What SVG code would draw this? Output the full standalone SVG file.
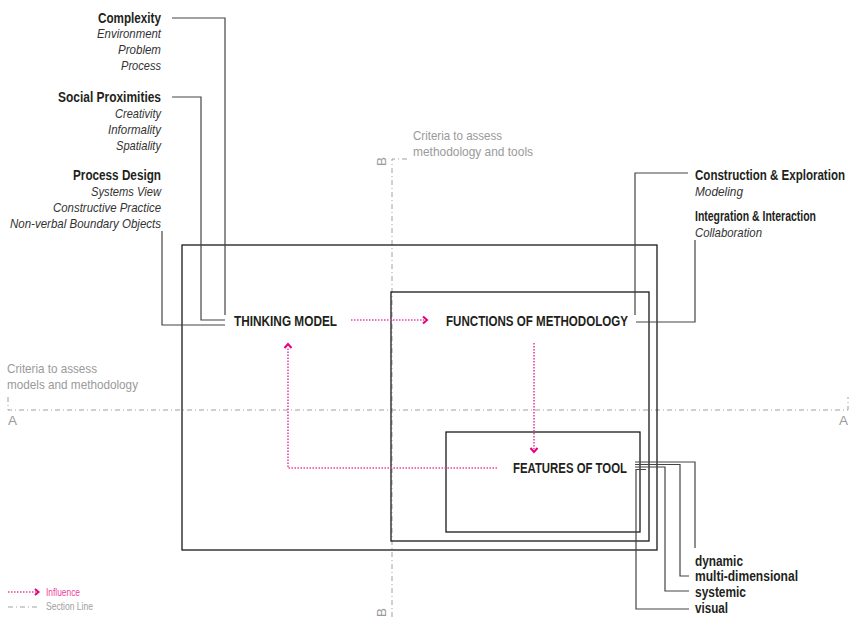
<svg xmlns="http://www.w3.org/2000/svg" width="849" height="617" viewBox="0 0 849 617">
  <style>
    text { font-family: "Liberation Sans Narrow", "Liberation Sans", Arial, sans-serif; fill: #231f20; }
    .h { font-size: 14px; font-weight: bold; }
    .it { font-size: 13px; font-style: italic; fill: #333; }
    .cap { font-size: 14px; font-weight: bold; }
    .gr { font-size: 13px; fill: #9a9a9a; }
    .lg { font-size: 10px; }
    .box { fill: none; stroke: #1a1a1a; stroke-width: 1.3; }
    .con { fill: none; stroke: #444; stroke-width: 1.2; }
    .sec { fill: none; stroke: #a0a0a0; stroke-width: 1; stroke-dasharray: 5 3 1 3; }
    .inf { fill: none; stroke: #ee3fa0; stroke-width: 1.6; stroke-dasharray: 1.5 1.5; }
    .head { fill: none; stroke: #e6007e; stroke-width: 2; stroke-linejoin: miter; }
  </style>

  <!-- section lines A-A and B-B -->
  <g id="section-lines">
    <path class="sec" d="M8,397 V410 H848 V397"/>
    <text class="gr" x="8" y="425" textLength="9" lengthAdjust="spacingAndGlyphs">A</text>
    <text class="gr" x="839" y="425" textLength="9" lengthAdjust="spacingAndGlyphs">A</text>
    <path class="sec" d="M407,159 H392 V617"/>
    <text class="gr" transform="translate(386,166) rotate(-90)" textLength="9" lengthAdjust="spacingAndGlyphs">B</text>
    <text class="gr" transform="translate(386,617) rotate(-90)" textLength="9" lengthAdjust="spacingAndGlyphs">B</text>
    <text class="gr" x="413" y="140" textLength="89" lengthAdjust="spacingAndGlyphs">Criteria to assess</text>
    <text class="gr" x="413" y="156" textLength="120" lengthAdjust="spacingAndGlyphs">methodology and tools</text>
    <text class="gr" x="7" y="373" textLength="90" lengthAdjust="spacingAndGlyphs">Criteria to assess</text>
    <text class="gr" x="7" y="389" textLength="131" lengthAdjust="spacingAndGlyphs">models and methodology</text>
  </g>

  <!-- frames -->
  <g id="frame-model"><rect class="box" x="182" y="245" width="475" height="305"/></g>
  <g id="frame-methodology"><rect class="box" x="391" y="292" width="258" height="249"/></g>
  <g id="frame-tool"><rect class="box" x="446" y="432" width="194" height="100"/></g>

  <!-- connectors -->
  <g id="connectors">
    <path class="con" d="M172,18 H225 V315"/>
    <path class="con" d="M172,97 H201 V320 H225"/>
    <path class="con" d="M162,231 V325 H225"/>
    <path class="con" d="M688,173 H635 V315"/>
    <path class="con" d="M695,240 V322 H636"/>
    <path class="con" d="M635,462 H695 V548"/>
    <path class="con" d="M635,464.5 H680 V576 H689"/>
    <path class="con" d="M635,467 H665 V591 H689"/>
    <path class="con" d="M646,469.5 H636 V609 H689"/>
    <!-- influence arrows -->
    <path class="inf" d="M351,320 H424"/>
    <path class="head" d="M423,316.5 L427,320 L423,323.5"/>
    <path class="inf" d="M534,343 V449"/>
    <path class="head" d="M530.5,448 L534,452 L537.5,448"/>
    <path class="inf" d="M497,468 H288 V347"/>
    <path class="head" d="M284.5,348 L288,344 L291.5,348"/>
  </g>

  <!-- criteria groups -->
  <g id="complexity">
    <text class="h" x="161" y="23" text-anchor="end" textLength="63" lengthAdjust="spacingAndGlyphs">Complexity</text>
    <text class="it" x="161" y="38" text-anchor="end" textLength="64" lengthAdjust="spacingAndGlyphs">Environment</text>
    <text class="it" x="161" y="54" text-anchor="end" textLength="43" lengthAdjust="spacingAndGlyphs">Problem</text>
    <text class="it" x="161" y="70" text-anchor="end" textLength="40" lengthAdjust="spacingAndGlyphs">Process</text>
  </g>
  <g id="social-proximities">
    <text class="h" x="161" y="102" text-anchor="end" textLength="103" lengthAdjust="spacingAndGlyphs">Social Proximities</text>
    <text class="it" x="161" y="118" text-anchor="end" textLength="46" lengthAdjust="spacingAndGlyphs">Creativity</text>
    <text class="it" x="161" y="134" text-anchor="end" textLength="53" lengthAdjust="spacingAndGlyphs">Informality</text>
    <text class="it" x="161" y="150" text-anchor="end" textLength="45" lengthAdjust="spacingAndGlyphs">Spatiality</text>
  </g>
  <g id="process-design">
    <text class="h" x="161" y="180" text-anchor="end" textLength="88" lengthAdjust="spacingAndGlyphs">Process Design</text>
    <text class="it" x="161" y="196" text-anchor="end" textLength="70" lengthAdjust="spacingAndGlyphs">Systems View</text>
    <text class="it" x="161" y="212" text-anchor="end" textLength="108" lengthAdjust="spacingAndGlyphs">Constructive Practice</text>
    <text class="it" x="161" y="228" text-anchor="end" textLength="151" lengthAdjust="spacingAndGlyphs">Non-verbal Boundary Objects</text>
  </g>
  <g id="construction-exploration">
    <text class="h" x="695" y="180" textLength="150" lengthAdjust="spacingAndGlyphs">Construction &amp; Exploration</text>
    <text class="it" x="695" y="196" textLength="48" lengthAdjust="spacingAndGlyphs">Modeling</text>
  </g>
  <g id="integration-interaction">
    <text class="h" x="695" y="221" textLength="121" lengthAdjust="spacingAndGlyphs">Integration &amp; Interaction</text>
    <text class="it" x="695" y="237" textLength="67" lengthAdjust="spacingAndGlyphs">Collaboration</text>
  </g>

  <!-- main nodes -->
  <g id="thinking-model">
    <text class="cap" x="234" y="326" textLength="103" lengthAdjust="spacingAndGlyphs">THINKING MODEL</text>
  </g>
  <g id="functions-of-methodology">
    <text class="cap" x="446" y="326" textLength="182" lengthAdjust="spacingAndGlyphs">FUNCTIONS OF METHODOLOGY</text>
  </g>
  <g id="features-of-tool">
    <text class="cap" x="513" y="473" textLength="114" lengthAdjust="spacingAndGlyphs">FEATURES OF TOOL</text>
  </g>

  <!-- tool features -->
  <g id="dynamic"><text class="h" x="695" y="566" textLength="48" lengthAdjust="spacingAndGlyphs">dynamic</text></g>
  <g id="multi-dimensional"><text class="h" x="695" y="581" textLength="103" lengthAdjust="spacingAndGlyphs">multi-dimensional</text></g>
  <g id="systemic"><text class="h" x="695" y="597" textLength="51" lengthAdjust="spacingAndGlyphs">systemic</text></g>
  <g id="visual"><text class="h" x="695" y="613" textLength="33" lengthAdjust="spacingAndGlyphs">visual</text></g>

  <!-- legend -->
  <g id="legend">
    <path class="inf" d="M8,592 H36" stroke-width="1.3"/>
    <path class="head" d="M35,589 L38.5,592 L35,595" stroke-width="1.8"/>
    <text class="lg" x="46" y="596" style="fill:#ee3fa0" textLength="34" lengthAdjust="spacingAndGlyphs">Influence</text>
    <path class="sec" d="M8,607 H40"/>
    <text class="lg" x="46" y="610" style="fill:#a0a0a0" textLength="47" lengthAdjust="spacingAndGlyphs">Section Line</text>
  </g>
</svg>
